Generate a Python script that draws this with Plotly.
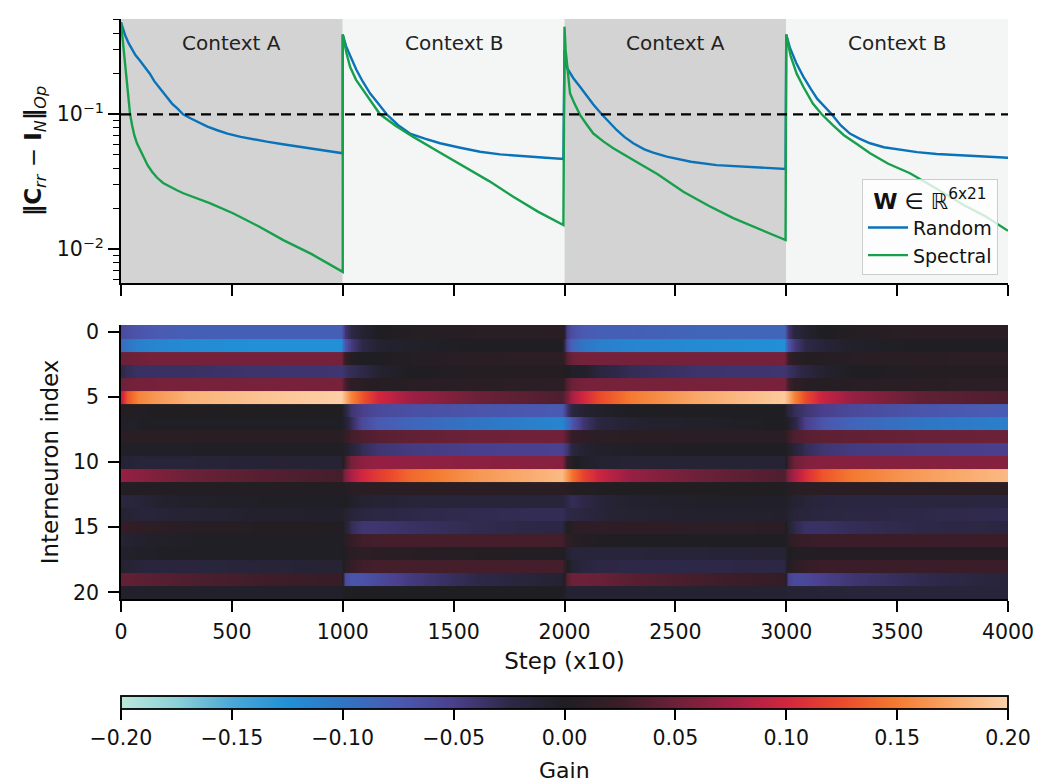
import plotly.graph_objects as go

# ---------------- data: top panel (operator norm, log scale) ----------------
random_steps = [0, 10, 20, 35, 50, 65, 85, 105, 130, 150, 176, 200, 230, 255, 280, 315, 350, 390, 431, 480,
                540, 600, 657, 730, 800, 900, 1000,
                1000, 1015, 1030, 1045, 1062, 1090, 1123, 1160, 1198, 1250, 1303, 1370, 1439, 1530, 1619,
                1710, 1800, 1900, 1995,
                2000, 2012, 2040, 2070, 2100, 2130, 2168, 2200, 2235, 2270, 2310, 2360, 2400, 2461, 2570,
                2686, 2850, 2997,
                3000, 3017, 3045, 3077, 3110, 3140, 3175, 3205, 3245, 3287, 3330, 3378, 3440, 3500, 3590,
                3678, 3850, 4000]
random_vals = [0.48, 0.42, 0.38, 0.335, 0.30, 0.275, 0.25, 0.225, 0.20, 0.176, 0.155, 0.137, 0.12, 0.11, 0.10,
               0.093, 0.087, 0.081, 0.0765, 0.072, 0.068, 0.065, 0.0627, 0.060, 0.0575, 0.0545, 0.0514,
               0.39, 0.32, 0.28, 0.245, 0.213, 0.175, 0.143, 0.12, 0.10, 0.083, 0.072, 0.066, 0.061, 0.0565,
               0.0528, 0.0505, 0.049, 0.0478, 0.0467,
               0.30, 0.22, 0.185, 0.16, 0.137, 0.118, 0.10, 0.088, 0.0765, 0.068, 0.061, 0.055, 0.052, 0.0485,
               0.0445, 0.042, 0.0405, 0.0394,
               0.39, 0.31, 0.24, 0.19, 0.155, 0.13, 0.113, 0.10, 0.083, 0.072, 0.066, 0.061, 0.057, 0.055,
               0.0525, 0.0508, 0.049, 0.0477]

spectral_steps = [0, 5, 10, 14, 18, 24, 30, 35, 41, 50, 60, 72, 86, 100, 120, 140, 162, 190, 220, 250, 281,
                  340, 400, 505, 620, 732, 860, 1000,
                  1000, 1017, 1033, 1060, 1093, 1130, 1168, 1240, 1318, 1430, 1544, 1660, 1769, 1880, 1995,
                  2000, 2005, 2017, 2025, 2045, 2070, 2100, 2130, 2175, 2220, 2310, 2420, 2536, 2650, 2761,
                  2880, 2997,
                  3000, 3020, 3047, 3077, 3120, 3160, 3210, 3260, 3320, 3378, 3460, 3558, 3680, 3800, 3900,
                  4000]
spectral_vals = [0.48, 0.40, 0.33, 0.27, 0.225, 0.18, 0.15, 0.125, 0.10, 0.083, 0.07, 0.061, 0.0544, 0.048,
                 0.042, 0.0375, 0.034, 0.031, 0.029, 0.0275, 0.026, 0.024, 0.022, 0.0185, 0.0148, 0.0117,
                 0.0092, 0.0068,
                 0.39, 0.283, 0.225, 0.18, 0.151, 0.122, 0.10, 0.082, 0.068, 0.053, 0.041, 0.032, 0.0245,
                 0.019, 0.0151,
                 0.446, 0.30, 0.20, 0.143, 0.12, 0.099, 0.084, 0.072, 0.063, 0.056, 0.0458, 0.036, 0.0267,
                 0.021, 0.017, 0.014, 0.0117,
                 0.39, 0.27, 0.20, 0.16, 0.12, 0.10, 0.083, 0.07, 0.06, 0.0514, 0.043, 0.0366, 0.028,
                 0.0213, 0.0175, 0.0137]

threshold = 0.1
contexts = ["Context A", "Context B", "Context A", "Context B"]
context_bounds = [0, 1000, 2000, 3000, 4000]

# ---------------- data: bottom panel (gains) ----------------
heat_steps = [0, 25, 75, 150, 300, 600, 990,
              1010, 1035, 1085, 1160, 1300, 1600, 1990,
              2010, 2035, 2085, 2160, 2300, 2600, 2990,
              3010, 3035, 3085, 3160, 3300, 3600, 4000]

gain = [
    # row 0
    [-0.06, -0.065, -0.07, -0.075, -0.08, -0.08, -0.08,
     -0.04, -0.025, -0.01, 0.0, 0.005, 0.008, 0.01,
     -0.05, -0.065, -0.075, -0.08, -0.08, -0.085, -0.085,
     -0.04, -0.02, -0.01, 0.0, 0.005, 0.01, 0.01],
    # row 1
    [-0.09, -0.1, -0.11, -0.115, -0.12, -0.125, -0.125,
     -0.07, -0.045, -0.025, -0.01, -0.005, 0.0, 0.0,
     -0.06, -0.085, -0.1, -0.11, -0.115, -0.12, -0.125,
     -0.07, -0.045, -0.025, -0.015, -0.005, 0.0, 0.0],
    # row 2
    [0.05, 0.05, 0.052, 0.055, 0.055, 0.055, 0.055,
     0.02, 0.005, 0.0, 0.0, 0.005, 0.01, 0.012,
     0.04, 0.05, 0.055, 0.055, 0.055, 0.055, 0.055,
     0.025, 0.01, 0.005, 0.005, 0.008, 0.01, 0.012],
    # row 3
    [-0.025, -0.03, -0.035, -0.035, -0.035, -0.038, -0.04,
     -0.035, -0.03, -0.025, -0.01, 0.0, 0.005, 0.005,
     0.0, -0.005, -0.005, -0.02, -0.03, -0.038, -0.04,
     -0.035, -0.03, -0.02, -0.01, 0.0, 0.005, 0.005],
    # row 4
    [0.05, 0.052, 0.055, 0.055, 0.056, 0.056, 0.056,
     0.03, 0.015, 0.008, 0.005, 0.008, 0.01, 0.012,
     0.04, 0.05, 0.055, 0.056, 0.056, 0.056, 0.056,
     0.03, 0.015, 0.008, 0.005, 0.008, 0.01, 0.012],
    # row 5
    [0.09, 0.13, 0.155, 0.165, 0.18, 0.19, 0.198,
     0.18, 0.155, 0.13, 0.1, 0.075, 0.05, 0.035,
     0.055, 0.08, 0.1, 0.125, 0.15, 0.175, 0.195,
     0.18, 0.155, 0.125, 0.095, 0.07, 0.045, 0.035],
    # row 6
    [0.005, 0.005, 0.003, 0.002, 0.002, 0.002, 0.002,
     -0.02, -0.04, -0.05, -0.06, -0.065, -0.07, -0.075,
     -0.04, -0.02, -0.01, -0.005, 0.0, 0.0, 0.0,
     -0.02, -0.03, -0.04, -0.05, -0.06, -0.07, -0.078],
    # row 7
    [-0.003, -0.003, -0.003, -0.002, -0.002, -0.002, -0.002,
     -0.01, -0.03, -0.06, -0.075, -0.085, -0.1, -0.115,
     -0.095, -0.07, -0.04, -0.02, -0.01, -0.005, 0.0,
     -0.005, -0.02, -0.05, -0.07, -0.085, -0.1, -0.11],
    # row 8
    [0.01, 0.01, 0.008, 0.008, 0.008, 0.008, 0.008,
     0.02, 0.03, 0.035, 0.04, 0.045, 0.05, 0.052,
     0.035, 0.02, 0.015, 0.012, 0.01, 0.01, 0.008,
     0.025, 0.035, 0.04, 0.043, 0.045, 0.048, 0.05],
    # row 9
    [-0.003, -0.003, -0.003, -0.003, -0.003, -0.002, -0.002,
     -0.005, -0.015, -0.03, -0.04, -0.045, -0.05, -0.052,
     -0.04, -0.02, -0.01, -0.005, -0.003, 0.0, 0.0,
     -0.005, -0.015, -0.03, -0.04, -0.045, -0.048, -0.05],
    # row 10
    [-0.01, -0.012, -0.015, -0.015, -0.015, -0.013, -0.012,
     0.03, 0.055, 0.065, 0.07, 0.068, 0.065, 0.063,
     0.02, 0.005, -0.005, -0.01, -0.012, -0.012, -0.012,
     0.03, 0.05, 0.06, 0.063, 0.063, 0.062, 0.062],
    # row 11
    [0.07, 0.068, 0.065, 0.06, 0.05, 0.04, 0.03,
     0.06, 0.08, 0.1, 0.115, 0.14, 0.165, 0.185,
     0.165, 0.145, 0.12, 0.095, 0.07, 0.05, 0.035,
     0.06, 0.08, 0.105, 0.13, 0.15, 0.168, 0.185],
    # row 12
    [0.003, 0.003, 0.003, 0.003, 0.003, 0.003, 0.003,
     0.005, 0.008, 0.01, 0.01, 0.01, 0.01, 0.01,
     0.008, 0.005, 0.003, 0.002, 0.002, 0.002, 0.002,
     0.005, 0.008, 0.01, 0.01, 0.01, 0.01, 0.01],
    # row 13
    [-0.02, -0.018, -0.015, -0.01, -0.005, -0.003, -0.002,
     0.0, -0.005, -0.01, -0.012, -0.015, -0.015, -0.015,
     -0.025, -0.03, -0.025, -0.015, -0.008, -0.004, -0.003,
     -0.008, -0.01, -0.015, -0.018, -0.02, -0.02, -0.02],
    # row 14
    [-0.01, -0.012, -0.015, -0.015, -0.012, -0.008, -0.005,
     -0.01, -0.015, -0.02, -0.022, -0.025, -0.028, -0.03,
     -0.025, -0.022, -0.02, -0.015, -0.01, -0.008, -0.006,
     -0.01, -0.015, -0.018, -0.02, -0.022, -0.025, -0.028],
    # row 15
    [0.02, 0.018, 0.015, 0.012, 0.008, 0.005, 0.004,
     -0.01, -0.03, -0.04, -0.04, -0.035, -0.028, -0.022,
     0.0, 0.01, 0.015, 0.015, 0.015, 0.012, 0.01,
     -0.01, -0.025, -0.035, -0.035, -0.03, -0.025, -0.02],
    # row 16
    [-0.012, -0.01, -0.008, -0.005, -0.003, -0.002, -0.002,
     0.01, 0.02, 0.028, 0.03, 0.03, 0.03, 0.03,
     0.015, 0.008, 0.004, 0.002, 0.0, 0.0, 0.0,
     0.01, 0.018, 0.023, 0.025, 0.025, 0.025, 0.025],
    # row 17
    [-0.005, -0.005, -0.004, -0.003, -0.002, -0.002, -0.002,
     0.005, 0.01, 0.012, 0.01, 0.008, 0.005, 0.003,
     -0.01, -0.015, -0.015, -0.015, -0.015, -0.014, -0.012,
     0.0, 0.003, 0.003, 0.003, 0.003, 0.003, 0.003],
    # row 18
    [-0.01, -0.012, -0.015, -0.018, -0.018, -0.015, -0.012,
     0.01, 0.02, 0.028, 0.03, 0.03, 0.03, 0.03,
     0.0, -0.01, -0.018, -0.022, -0.025, -0.025, -0.022,
     0.005, 0.012, 0.02, 0.025, 0.025, 0.025, 0.025],
    # row 19
    [0.045, 0.045, 0.042, 0.04, 0.035, 0.028, 0.022,
     -0.06, -0.07, -0.068, -0.06, -0.045, -0.025, -0.01,
     0.04, 0.05, 0.05, 0.048, 0.04, 0.03, 0.02,
     -0.05, -0.06, -0.058, -0.05, -0.04, -0.028, -0.015],
    # row 20
    [-0.005, -0.005, -0.005, -0.005, -0.005, -0.005, -0.005,
     0.0, 0.0, 0.0, 0.0, 0.0, 0.0, 0.0,
     -0.01, -0.01, -0.01, -0.01, -0.01, -0.01, -0.01,
     -0.012, -0.012, -0.013, -0.014, -0.015, -0.015, -0.015],
]

x_ticks = [0, 500, 1000, 1500, 2000, 2500, 3000, 3500, 4000]
cbar_ticks = [-0.20, -0.15, -0.10, -0.05, 0.00, 0.05, 0.10, 0.15, 0.20]
cbar_labels = ["−0.20", "−0.15", "−0.10", "−0.05", "0.00", "0.05", "0.10", "0.15", "0.20"]

# ---------------- styling ----------------
FONT = "DejaVu Sans"
TICK = 20.5
BLUE = "#0a72b8"
GREEN = "#16a04c"
icefire = [
    [0.0, "#bde7db"], [0.0625, "#8dd1d8"], [0.125, "#4aa8d6"], [0.1875, "#2190d6"],
    [0.25, "#3075c4"], [0.3125, "#4a5ab2"], [0.375, "#4a3f8c"], [0.4375, "#2e2848"],
    [0.5, "#1f1e22"], [0.5625, "#3a1d28"], [0.625, "#6c2138"], [0.6875, "#a01f45"],
    [0.75, "#d2263f"], [0.8125, "#eb4a2b"], [0.875, "#f47b30"], [0.9375, "#f9a86a"],
    [1.0, "#fdd3ab"],
]

fig = go.Figure()

fig.add_trace(go.Scatter(x=random_steps, y=random_vals, mode="lines", name="Random",
                         line=dict(color=BLUE, width=2.4), xaxis="x", yaxis="y"))
fig.add_trace(go.Scatter(x=spectral_steps, y=spectral_vals, mode="lines", name="Spectral",
                         line=dict(color=GREEN, width=2.4), xaxis="x", yaxis="y"))

# duplicate each row at two y positions so horizontal smoothing keeps crisp row bands
z_rows, y_rows = [], []
for r, row in enumerate(gain):
    z_rows.append(row); y_rows.append(r - 0.46)
    z_rows.append(row); y_rows.append(r + 0.46)

fig.add_trace(go.Heatmap(
    z=z_rows, x=heat_steps, y=y_rows, zmin=-0.2, zmax=0.2, zsmooth="best",
    colorscale=icefire, xaxis="x2", yaxis="y2", showlegend=False,
    colorbar=dict(orientation="h", x=0.5, xanchor="center", y=-0.167, yanchor="top",
                  len=1, lenmode="fraction", thickness=13, xpad=0, ypad=0,
                  outlinewidth=1.8, outlinecolor="black",
                  tickvals=cbar_ticks, ticktext=cbar_labels, ticks="outside",
                  ticklen=11, tickwidth=1.8, tickcolor="black",
                  tickfont=dict(family=FONT, size=TICK, color="#111")),
))

shapes = []
for i, name in enumerate(contexts):
    shapes.append(dict(type="rect", xref="x", yref="y domain",
                       x0=context_bounds[i], x1=context_bounds[i + 1], y0=0, y1=1,
                       fillcolor="#d3d3d3" if name.endswith("A") else "#f4f6f6",
                       line=dict(width=0), layer="below"))
shapes.append(dict(type="line", xref="x domain", yref="y", x0=0, x1=1,
                   y0=threshold, y1=threshold,
                   line=dict(color="black", width=2.2, dash="10px,6px")))

annotations = []
for i, name in enumerate(contexts):
    annotations.append(dict(x=(context_bounds[i] + context_bounds[i + 1]) / 2, y=0.909,
                            xref="x", yref="y domain", text=name, showarrow=False,
                            yanchor="middle",
                            font=dict(family=FONT, size=20, color="#222")))
annotations.append(dict(x=0.5, y=-0.296, xref="paper", yref="paper", text="Gain",
                        showarrow=False, yanchor="middle",
                        font=dict(family=FONT, size=22, color="#111")))

minor_vals = [m * 10 ** e for e in (-3, -2, -1) for m in range(2, 10)]

axis_common = dict(showline=True, linecolor="black", linewidth=1.8, ticks="outside",
                   tickcolor="black", tickwidth=1.8, showgrid=False, zeroline=False,
                   ticklen=11, tickfont=dict(family=FONT, size=TICK, color="#111"))

fig.update_layout(
    width=1039, height=783,
    margin=dict(l=121, r=31, t=19, b=184, autoexpand=False),
    paper_bgcolor="white", plot_bgcolor="white",
    font=dict(family=FONT, color="#111"),
    shapes=shapes, annotations=annotations,
    xaxis=dict(**axis_common, domain=[0, 1], anchor="y", range=[0, 4000],
               tickvals=x_ticks, showticklabels=False),
    yaxis=dict(**axis_common, domain=[0.5448, 1.0], anchor="x", type="log",
               range=[-2.25, -0.294], tickvals=[0.01, 0.1],
               ticktext=["10<sup>−2</sup>", "10<sup>−1</sup>"],
               minor=dict(tickvals=minor_vals, ticks="outside", ticklen=6,
                          tickwidth=1.4, tickcolor="black", showgrid=False),
               title=dict(text="<b>‖C</b><sub><i>rr</i></sub> − <b>I</b><sub><i>N</i></sub><b>‖</b><sub><i>Op</i></sub>",
                          font=dict(family=FONT, size=23, color="#111"), standoff=9)),
    xaxis2=dict(**axis_common, domain=[0, 1], anchor="y2", range=[0, 4000],
                tickvals=x_ticks, ticklabelstandoff=2,
                title=dict(text="Step (x10)", font=dict(family=FONT, size=23, color="#111"),
                           standoff=10)),
    yaxis2=dict(**axis_common, domain=[0, 0.4724], anchor="x2", range=[20.5, -0.5],
                tickvals=[0, 5, 10, 15, 20], ticklabelstandoff=5,
                title=dict(text="Interneuron index", font=dict(family=FONT, size=23, color="#111"),
                           standoff=8)),
    legend=dict(x=0.9887, xanchor="right", y=0.5586, yanchor="bottom",
                bgcolor="rgba(255,255,255,0.8)", bordercolor="#cccccc", borderwidth=1,
                font=dict(family=FONT, size=19, color="#111"),
                title=dict(text="<b>W</b> ∈ ℝ<sup>6x21</sup>", side="top center",
                           font=dict(family=FONT, size=22, color="#111")),
                itemwidth=40, tracegroupgap=0),
)

fig.write_html("out.html")
